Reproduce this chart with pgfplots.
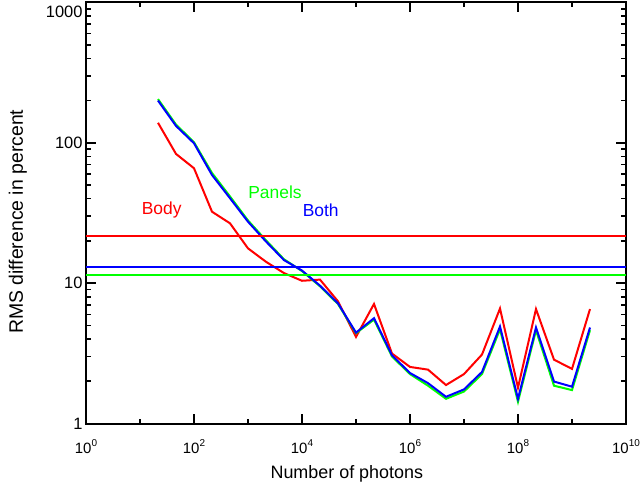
\documentclass[border=0pt]{standalone}
\usepackage{pgfplots}
\pgfplotsset{compat=1.18}
\usepackage{pgfplotstable}
\usepackage{fontspec}
\setmainfont{Liberation Sans}
\newcommand{\ttp}[1]{10\raisebox{0.45em}{\fontsize{10}{12}\selectfont #1}}
\pgfplotstableread{
x red green blue
21.544 139 205 200
46.416 83.4 135 132
100 65.9 101 99.3
215.44 32.3 61 59
464.16 26.7 41.5 40.3
1000 17.7 28 27.4
2154.4 14.2 20.2 19.8
4641.6 11.8 14.8 14.6
10000 10.4 12.2 12.3
21544 10.6 9.5 9.6
46416 7.42 7.1 7.18
100000 4.14 4.4 4.44
215440 7.11 5.5 5.63
464160 3.15 3.0 3.06
1000000 2.53 2.25 2.29
2154400 2.42 1.86 1.94
4641600 1.88 1.50 1.55
10000000 2.25 1.69 1.75
21544000 3.10 2.25 2.33
46416000 6.6 4.69 4.91
100000000 1.80 1.43 1.50
215440000 6.54 4.62 4.83
464160000 2.85 1.86 1.99
1000000000 2.45 1.73 1.83
2154400000 6.54 4.62 4.83
}\datatable
\definecolor{pgreen}{RGB}{0,255,0}
\begin{document}
\begin{tikzpicture}
\begin{axis}[
  at={(0,0)}, anchor=south west,
  scale only axis, width=540bp, height=421bp,
  xmode=log, ymode=log,
  xmin=1, xmax=1e10, ymin=1, ymax=1000,
  xtick={1,1e2,1e4,1e6,1e8,1e10},
  xticklabels={\ttp{0},\ttp{2},\ttp{4},\ttp{6},\ttp{8},\ttp{10}},
  minor xtick={1e1,1e3,1e5,1e7,1e9},
  ytick={1,10,100,1000},
  yticklabels={1,10,100,\raisebox{-15.4bp}[0pt][0pt]{1000}},
  minor ytick={2,3,4,5,6,7,8,9,20,30,40,50,60,70,80,90,200,300,400,500,600,700,800,900},
  major tick length=10bp, minor tick length=5bp,
  every tick/.style={black, line width=1.6bp},
  axis line style={line width=2bp},
  yticklabel style={font=\fontsize{16.5}{18}\selectfont},
  xticklabel style={font=\fontsize{15}{18}\selectfont, anchor=base, yshift=-30bp},
  xlabel={Number of photons},
  ylabel={RMS difference in percent},
  xlabel style={font=\fontsize{18}{20}\selectfont, at={(axis description cs:0.483,0)}, anchor=base, yshift=-55bp},
  ylabel style={font=\fontsize{19.5}{22}\selectfont, at={(axis description cs:-0.126,0.479)}, anchor=center},
]
\addplot[red, line width=2bp] table[x=x,y=red] {\datatable};
\addplot[pgreen, line width=2bp] table[x=x,y=green] {\datatable};
\addplot[blue, line width=2bp] table[x=x,y=blue] {\datatable};
\addplot[red, line width=2bp] coordinates {(1,21.8) (1e10,21.8)};
\addplot[pgreen, line width=2bp] coordinates {(1,11.4) (1e10,11.4)};
\addplot[blue, line width=2bp] coordinates {(1,13.1) (1e10,13.1)};
\node[text=red, font=\fontsize{17.5}{20}\selectfont] at (axis cs:25.2,33.2) {Body};
\node[text=pgreen, font=\fontsize{17.5}{20}\selectfont] at (axis cs:3162,44.2) {Panels};
\node[text=blue, font=\fontsize{17.5}{20}\selectfont] at (axis cs:22200,33.2) {Both};
\end{axis}
\pgfresetboundingbox
\path[use as bounding box] (-86bp,-58.5bp) rectangle (554bp,423.5bp);
\end{tikzpicture}
\end{document}
